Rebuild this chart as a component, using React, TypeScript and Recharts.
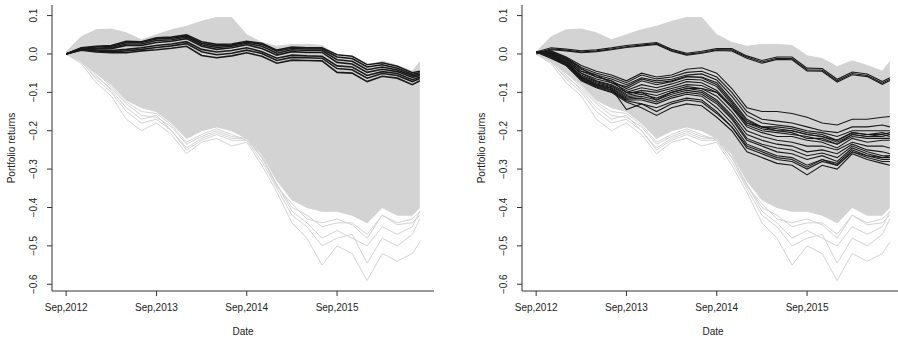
import { ComposedChart, Area, Line, XAxis, YAxis } from 'recharts';

// months since Sep 2012
const months = [0, 2, 4, 6, 8, 10, 12, 14, 16, 18, 20, 22, 24, 26, 28, 30, 32, 34, 36, 38, 40, 42, 44, 46, 47];

const xTickValues = [0, 12, 24, 36];
const xTickLabels = ['Sep,2012', 'Sep,2013', 'Sep,2014', 'Sep,2015'];
const yTickValues = [0.1, 0, -0.1, -0.2, -0.3, -0.4, -0.5, -0.6];
const yTickLabels = ['0.1', '0.0', '\u22120.1', '\u22120.2', '\u22120.3', '\u22120.4', '\u22120.5', '\u22120.6'];

// dense cloud of simulated portfolios (upper / lower edge)
const grayHigh = [0.005, 0.045, 0.063, 0.065, 0.055, 0.037, 0.05, 0.063, 0.072, 0.085, 0.095, 0.095, 0.05, 0.03, 0.02, 0.025, 0.025, 0.022, -0.005, -0.012, -0.033, -0.018, -0.03, -0.045, -0.02];
const grayLow = [0, -0.02, -0.05, -0.08, -0.12, -0.14, -0.15, -0.18, -0.22, -0.2, -0.19, -0.2, -0.22, -0.26, -0.33, -0.38, -0.4, -0.41, -0.41, -0.42, -0.44, -0.4, -0.42, -0.42, -0.4];

// the few simulations that stray below the cloud
const grayLines = [
  [0, -0.025, -0.075, -0.11, -0.17, -0.2, -0.18, -0.21, -0.26, -0.23, -0.22, -0.24, -0.23, -0.29, -0.36, -0.44, -0.48, -0.55, -0.5, -0.52, -0.59, -0.52, -0.54, -0.52, -0.49],
  [0, -0.02, -0.065, -0.1, -0.15, -0.18, -0.17, -0.2, -0.25, -0.225, -0.21, -0.225, -0.225, -0.28, -0.35, -0.42, -0.45, -0.5, -0.48, -0.47, -0.545, -0.48, -0.5, -0.47, -0.43],
  [0, -0.015, -0.055, -0.095, -0.14, -0.17, -0.16, -0.2, -0.245, -0.22, -0.205, -0.22, -0.22, -0.27, -0.34, -0.41, -0.44, -0.48, -0.46, -0.48, -0.5, -0.45, -0.47, -0.45, -0.41],
  [0, -0.02, -0.06, -0.09, -0.13, -0.16, -0.165, -0.19, -0.235, -0.215, -0.2, -0.215, -0.22, -0.265, -0.34, -0.4, -0.42, -0.45, -0.44, -0.44, -0.47, -0.42, -0.44, -0.43, -0.41],
  [0, -0.018, -0.05, -0.085, -0.125, -0.15, -0.155, -0.185, -0.23, -0.21, -0.195, -0.21, -0.225, -0.27, -0.345, -0.39, -0.43, -0.44, -0.43, -0.445, -0.48, -0.42, -0.445, -0.44, -0.42],
];

// left panel highlighted portfolios
const blackLeft = [
  [0, 0.016, 0.02, 0.022, 0.033, 0.032, 0.042, 0.044, 0.05, 0.032, 0.025, 0.026, 0.033, 0.028, 0.01, 0.018, 0.016, 0.016, -0.002, -0.006, -0.028, -0.023, -0.032, -0.049, -0.045],
  [0, 0.015, 0.018, 0.02, 0.03, 0.03, 0.039, 0.041, 0.047, 0.028, 0.021, 0.023, 0.031, 0.025, 0.007, 0.015, 0.013, 0.013, -0.008, -0.012, -0.034, -0.028, -0.037, -0.053, -0.049],
  [0, 0.014, 0.015, 0.017, 0.026, 0.026, 0.035, 0.037, 0.044, 0.024, 0.017, 0.02, 0.028, 0.02, 0.002, 0.011, 0.009, 0.009, -0.015, -0.019, -0.041, -0.034, -0.042, -0.057, -0.053],
  [0, 0.013, 0.013, 0.014, 0.022, 0.022, 0.03, 0.033, 0.04, 0.02, 0.012, 0.016, 0.024, 0.014, -0.003, 0.006, 0.004, 0.004, -0.022, -0.026, -0.048, -0.04, -0.046, -0.061, -0.056],
  [0, 0.012, 0.01, 0.009, 0.012, 0.016, 0.022, 0.026, 0.032, 0.012, 0.005, 0.009, 0.016, 0.006, -0.011, -0.003, -0.005, -0.006, -0.031, -0.034, -0.056, -0.046, -0.051, -0.067, -0.06],
  [0, 0.011, 0.008, 0.006, 0.008, 0.012, 0.017, 0.021, 0.027, 0.006, -0.002, 0.002, 0.01, 0.001, -0.017, -0.009, -0.01, -0.011, -0.038, -0.041, -0.063, -0.051, -0.056, -0.072, -0.064],
  [0, 0.01, 0.005, 0.003, 0.003, 0.008, 0.011, 0.015, 0.02, -0.004, -0.01, -0.005, 0.003, -0.006, -0.024, -0.016, -0.017, -0.018, -0.048, -0.05, -0.072, -0.058, -0.063, -0.08, -0.07],
];

// right panel highlighted portfolios
const blackRight = [
  [0.005, 0.016, 0.013, 0.008, 0.011, 0.016, 0.022, 0.026, 0.03, 0.012, 0.002, 0.007, 0.014, 0.014, -0.005, -0.017, -0.008, -0.008, -0.037, -0.038, -0.066, -0.047, -0.052, -0.072, -0.062],
  [0.003, 0.013, 0.01, 0.005, 0.008, 0.013, 0.019, 0.023, 0.027, 0.009, -0.001, 0.004, 0.011, 0.011, -0.008, -0.021, -0.011, -0.012, -0.041, -0.042, -0.07, -0.051, -0.056, -0.076, -0.066],
  [0, 0.011, 0.008, 0.003, 0.006, 0.011, 0.017, 0.021, 0.025, 0.007, -0.003, 0.002, 0.009, 0.008, -0.011, -0.024, -0.014, -0.015, -0.044, -0.045, -0.073, -0.054, -0.059, -0.079, -0.069],
  [0.005, 0.008, -0.008, -0.03, -0.045, -0.055, -0.07, -0.05, -0.06, -0.055, -0.04, -0.036, -0.05, -0.09, -0.14, -0.15, -0.15, -0.155, -0.165, -0.18, -0.185, -0.17, -0.17, -0.165, -0.163],
  [0.005, 0.006, -0.01, -0.035, -0.05, -0.06, -0.075, -0.055, -0.065, -0.06, -0.048, -0.045, -0.06, -0.1, -0.15, -0.17, -0.175, -0.18, -0.19, -0.2, -0.205, -0.19, -0.19, -0.185, -0.19],
  [0.005, 0.004, -0.012, -0.04, -0.055, -0.065, -0.08, -0.062, -0.07, -0.066, -0.055, -0.052, -0.068, -0.11, -0.16, -0.18, -0.185, -0.19, -0.2, -0.205, -0.215, -0.2, -0.2, -0.2, -0.2],
  [0.005, 0.003, -0.015, -0.045, -0.06, -0.07, -0.09, -0.07, -0.08, -0.072, -0.06, -0.06, -0.075, -0.12, -0.17, -0.19, -0.19, -0.195, -0.205, -0.21, -0.225, -0.205, -0.21, -0.205, -0.21],
  [0.005, 0.002, -0.018, -0.05, -0.065, -0.075, -0.095, -0.08, -0.088, -0.078, -0.066, -0.068, -0.085, -0.13, -0.18, -0.19, -0.2, -0.2, -0.21, -0.215, -0.23, -0.21, -0.215, -0.21, -0.215],
  [0.005, 0.001, -0.02, -0.05, -0.07, -0.08, -0.1, -0.088, -0.095, -0.085, -0.072, -0.075, -0.095, -0.135, -0.185, -0.2, -0.205, -0.21, -0.215, -0.225, -0.235, -0.215, -0.22, -0.22, -0.22],
  [0.005, 0, -0.022, -0.055, -0.072, -0.082, -0.105, -0.095, -0.1, -0.09, -0.08, -0.082, -0.1, -0.14, -0.19, -0.205, -0.215, -0.215, -0.225, -0.23, -0.245, -0.22, -0.23, -0.225, -0.225],
  [0.005, -0.002, -0.024, -0.058, -0.075, -0.085, -0.108, -0.1, -0.108, -0.095, -0.085, -0.09, -0.11, -0.15, -0.2, -0.215, -0.225, -0.23, -0.24, -0.24, -0.25, -0.23, -0.24, -0.24, -0.245],
  [0.005, -0.004, -0.026, -0.06, -0.078, -0.088, -0.112, -0.105, -0.115, -0.1, -0.09, -0.095, -0.12, -0.16, -0.21, -0.225, -0.235, -0.24, -0.255, -0.25, -0.26, -0.235, -0.25, -0.255, -0.26],
  [0.005, -0.005, -0.027, -0.062, -0.08, -0.09, -0.115, -0.11, -0.12, -0.105, -0.095, -0.1, -0.125, -0.165, -0.22, -0.235, -0.245, -0.25, -0.265, -0.258, -0.27, -0.24, -0.255, -0.265, -0.265],
  [0.005, -0.006, -0.028, -0.064, -0.082, -0.093, -0.118, -0.115, -0.125, -0.11, -0.1, -0.105, -0.13, -0.17, -0.225, -0.24, -0.255, -0.26, -0.275, -0.265, -0.28, -0.245, -0.26, -0.27, -0.27],
  [0.005, -0.008, -0.029, -0.066, -0.084, -0.095, -0.12, -0.12, -0.13, -0.115, -0.105, -0.11, -0.14, -0.18, -0.235, -0.25, -0.265, -0.27, -0.29, -0.275, -0.285, -0.25, -0.265, -0.275, -0.275],
  [0.005, -0.01, -0.03, -0.068, -0.086, -0.098, -0.122, -0.13, -0.14, -0.125, -0.115, -0.12, -0.15, -0.19, -0.245, -0.26, -0.275, -0.28, -0.3, -0.28, -0.29, -0.255, -0.27, -0.28, -0.28],
  [0.005, -0.012, -0.03, -0.07, -0.088, -0.1, -0.125, -0.14, -0.16, -0.14, -0.13, -0.135, -0.165, -0.2, -0.255, -0.27, -0.285, -0.29, -0.315, -0.29, -0.3, -0.26, -0.275, -0.285, -0.29],
  [0.005, 0.005, -0.012, -0.038, -0.06, -0.07, -0.1, -0.1, -0.12, -0.1, -0.09, -0.09, -0.1, -0.14, -0.18, -0.195, -0.2, -0.205, -0.22, -0.22, -0.235, -0.21, -0.215, -0.215, -0.21],
  [0.005, -0.003, -0.02, -0.06, -0.08, -0.09, -0.145, -0.13, -0.15, -0.13, -0.12, -0.125, -0.155, -0.19, -0.24, -0.255, -0.27, -0.275, -0.295, -0.275, -0.29, -0.255, -0.265, -0.27, -0.265],
  [0.005, 0.002, -0.015, -0.045, -0.055, -0.075, -0.085, -0.065, -0.075, -0.07, -0.058, -0.062, -0.08, -0.125, -0.175, -0.19, -0.195, -0.2, -0.21, -0.215, -0.225, -0.205, -0.21, -0.21, -0.205],
];

const GRAY = '#d3d3d3';
const INK = '#222';
const FONT = '"Liberation Sans", Arial, Helvetica, sans-serif';

function buildRows(black: number[][]) {
  return months.map((m, i) => {
    const row: Record<string, number | number[]> = { m, band: [grayLow[i], grayHigh[i]] };
    grayLines.forEach((s, j) => { row['g' + j] = s[i]; });
    black.forEach((s, j) => { row['b' + j] = s[i]; });
    return row;
  });
}

function YTick(props: any) {
  const { x, y, payload } = props;
  const idx = yTickValues.findIndex(v => Math.abs(v - payload.value) < 1e-9);
  return (
    <text x={x} y={y} transform={`rotate(-90, ${x}, ${y})`} textAnchor="middle"
      fontSize={10} fill={INK} fontFamily={FONT}>
      {yTickLabels[idx]}
    </text>
  );
}

function Panel({ black, left, lineWidth }: { black: number[][]; left: number; lineWidth: number }) {
  const rows = buildRows(black);
  const xDomain = [-1.88, 48.88];
  const yDomain = [-0.6176, 0.1276];
  return (
    <div style={{ position: 'absolute', left, top: 0, width: 470, height: 339 }}>
      <ComposedChart width={470} height={339} data={rows} margin={{ top: 5, right: 36, bottom: 0, left: 0 }}>
        <XAxis dataKey="m" type="number" domain={xDomain} allowDataOverflow ticks={xTickValues}
          tickFormatter={(v: number) => xTickLabels[xTickValues.indexOf(v)]}
          height={48} tickSize={5} tickMargin={8} interval={0}
          stroke="#333" tick={{ fill: INK, fontSize: 10, fontFamily: FONT }} />
        <XAxis xAxisId="top" orientation="top" type="number" domain={xDomain} allowDataOverflow
          height={0} tick={false} tickLine={false} stroke="#333" />
        <YAxis type="number" domain={yDomain} allowDataOverflow ticks={yTickValues} interval={0}
          width={52} tickSize={5} tickMargin={10} stroke="#333" tick={<YTick />} />
        <YAxis yAxisId="right" orientation="right" type="number" domain={yDomain} allowDataOverflow
          width={0} tick={false} tickLine={false} stroke="#333" />
        <Area dataKey="band" type="linear" fill={GRAY} fillOpacity={1} stroke={GRAY} strokeWidth={1}
          isAnimationActive={false} dot={false} activeDot={false} />
        {grayLines.map((_, j) => (
          <Line key={'g' + j} dataKey={'g' + j} type="linear" stroke={GRAY} strokeWidth={1}
            dot={false} activeDot={false} isAnimationActive={false} />
        ))}
        {black.map((_, j) => (
          <Line key={'b' + j} dataKey={'b' + j} type="linear" stroke="#1a1a1a" strokeWidth={lineWidth}
            dot={false} activeDot={false} isAnimationActive={false} />
        ))}
      </ComposedChart>
      <div style={{ position: 'absolute', left: 11.5 - 100, top: 148 - 6, width: 200, height: 12, lineHeight: '12px',
        textAlign: 'center', transform: 'rotate(-90deg)', fontSize: 10, fontFamily: FONT, color: INK }}>
        Portfolio returns
      </div>
      <div style={{ position: 'absolute', left: 243 - 50, top: 326, width: 100, height: 12, lineHeight: '12px',
        textAlign: 'center', fontSize: 10, fontFamily: FONT, color: INK }}>
        Date
      </div>
    </div>
  );
}

export default function App() {
  return (
    <div style={{ position: 'absolute', left: 0, top: 0, width: 898, height: 339, overflow: 'hidden', background: '#fff' }}>
      <Panel black={blackLeft} left={0} lineWidth={1.6} />
      <Panel black={blackRight} left={470} lineWidth={1.1} />
    </div>
  );
}
